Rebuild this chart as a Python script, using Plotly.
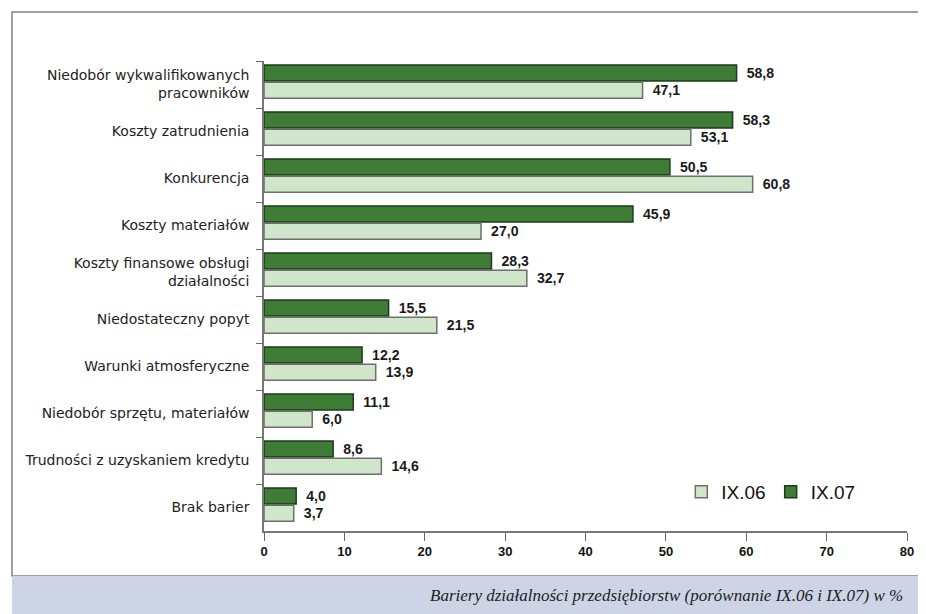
"""Bariery działalności przedsiębiorstw: IX.06 vs IX.07, horizontal grouped bars."""

import plotly.graph_objects as go

categories = [
    "Niedobór wykwalifikowanych<br>pracowników",
    "Koszty zatrudnienia",
    "Konkurencja",
    "Koszty materiałów",
    "Koszty finansowe obsługi<br>działalności",
    "Niedostateczny popyt",
    "Warunki atmosferyczne",
    "Niedobór sprzętu, materiałów",
    "Trudności z uzyskaniem kredytu",
    "Brak barier",
]
ix07 = [58.8, 58.3, 50.5, 45.9, 28.3, 15.5, 12.2, 11.1, 8.6, 4.0]
ix06 = [47.1, 53.1, 60.8, 27.0, 32.7, 21.5, 13.9, 6.0, 14.6, 3.7]
x_ticks = [0, 10, 20, 30, 40, 50, 60, 70, 80]

DARK = "#3f7d37"
DARK_EDGE = "#1d3a1a"
LIGHT = "#cfe6ca"
LIGHT_EDGE = "#6f6f6f"
CAPTION_BG = "#ccd4e6"
SANS = "Liberation Sans, Arial"


def pl(v):
    # polish decimal comma, small gap from the bar end
    return "\u2002" + f"{v:.1f}".replace(".", ",")


fig = go.Figure()
fig.add_trace(go.Bar(
    y=categories, x=ix07, orientation="h", name="IX.07", legendrank=2,
    offset=-0.415, width=0.34,
    marker=dict(color=DARK, line=dict(color=DARK_EDGE, width=1.5)),
    text=[pl(v) for v in ix07], textposition="outside", cliponaxis=False,
    textfont=dict(family=SANS, size=15, color="#1a1a1a", weight="bold"),
))
fig.add_trace(go.Bar(
    y=categories, x=ix06, orientation="h", name="IX.06", legendrank=1,
    offset=-0.05, width=0.34,
    marker=dict(color=LIGHT, line=dict(color=LIGHT_EDGE, width=1.5)),
    text=[pl(v) for v in ix06], textposition="outside", cliponaxis=False,
    textfont=dict(family=SANS, size=15, color="#1a1a1a", weight="bold"),
))

# frame and caption band (page body has an 8px margin, figure sits at 8,8)
fig.add_shape(type="rect", xref="paper", yref="paper", x0=-0.392, x1=1.0218, y0=-0.0957, y1=1.104,
              line=dict(color="#808080", width=1.5), fillcolor="rgba(0,0,0,0)", layer="below")
fig.add_shape(type="rect", xref="paper", yref="paper", x0=-0.392, x1=1.0218, y0=-0.0957, y1=-0.18,
              line=dict(width=0), fillcolor=CAPTION_BG, layer="below")
fig.add_annotation(xref="paper", yref="paper", x=0.997, y=-0.138, xanchor="right", yanchor="middle",
                   text="<i>Bariery działalności przedsiębiorstw (porównanie IX.06 i IX.07) w %</i>",
                   showarrow=False,
                   font=dict(family="Liberation Serif, DejaVu Serif", size=17, color="#222"))

fig.update_layout(
    width=918, height=606,
    margin=dict(l=256, r=19, t=53, b=83),
    paper_bgcolor="white", plot_bgcolor="white",
    barmode="overlay",
    font=dict(family=SANS, size=13, color="#222"),
    showlegend=True,
    legend=dict(orientation="h", x=0.649, y=0.083, xanchor="left", yanchor="middle",
                font=dict(size=19, color="#111"), bgcolor="rgba(0,0,0,0)",
                itemwidth=30, traceorder="normal"),
    xaxis=dict(range=[0, 80], tickvals=x_ticks, ticks="outside", ticklen=8, tickcolor="#666",
               showline=True, linecolor="#777", linewidth=1.5, showgrid=False, zeroline=False,
               tickfont=dict(family=SANS, size=13, color="#111", weight="bold")),
    yaxis=dict(autorange="reversed", ticks="outside", ticklen=6, tickcolor="#666",
               tickson="boundaries", showline=True, linecolor="#777", linewidth=1.5,
               showgrid=False, ticklabelstandoff=10,
               tickfont=dict(family="DejaVu Sans", size=14, color="#222")),
)

fig.write_html("out.html")
